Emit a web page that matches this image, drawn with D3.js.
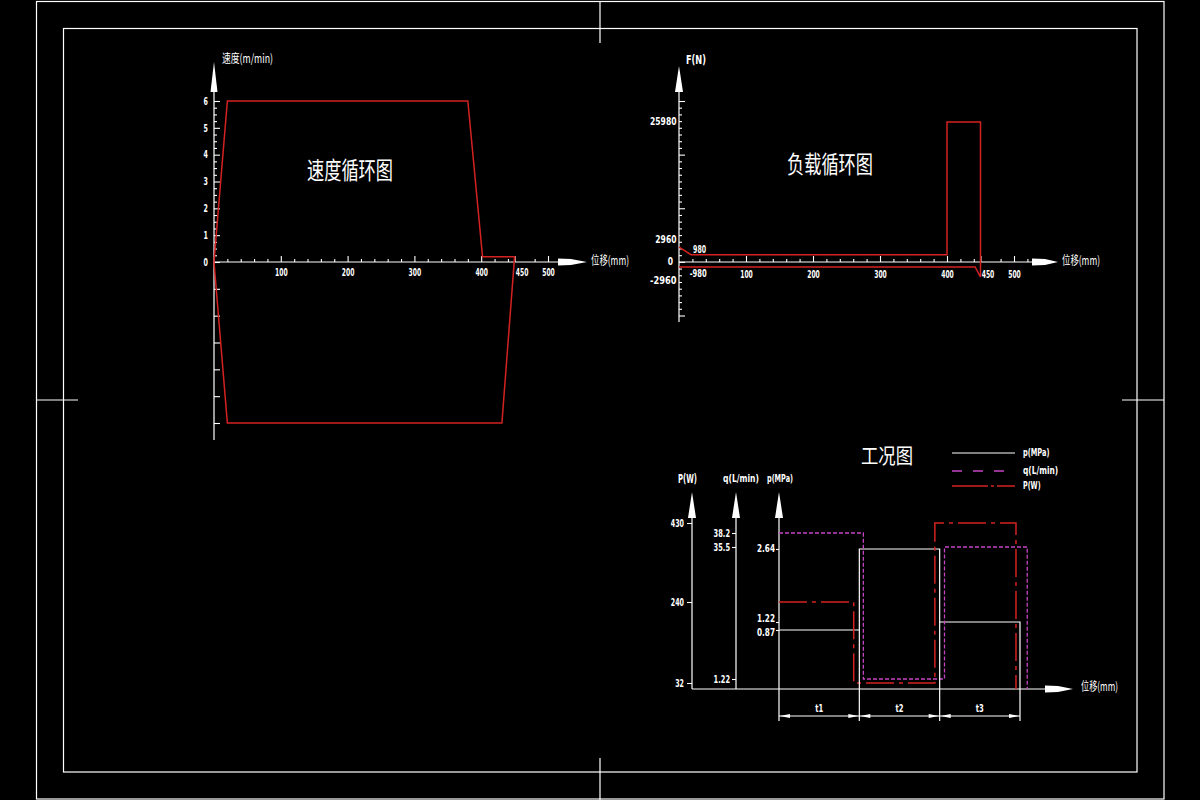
<!DOCTYPE html>
<html><head><meta charset="utf-8">
<script src="https://cdn.jsdelivr.net/npm/d3@7"></script>
<style>html,body{margin:0;background:#000;} svg{display:block;background:#000;}</style>
</head><body>
<svg id="c" width="1200" height="800"></svg>
<script>
// ---------- data ----------
// 速度循环图
const speedPos = [0, 20, 380, 402, 450, 431, 20, 0];
const speedVal = [0, 6, 6, 0.2, 0.2, -6, -6, 0];
const speedTicks = [0, 1, 2, 3, 4, 5, 6];
const speedNegTicks = [-1, -2, -3, -4, -5, -6];
const posTicks = [100, 200, 300, 400, 450, 500];
// 负载循环图
const loadPos = [0, 18, 400, 400, 450, 450, 442, 0];
const loadVal = [2000, 980, 980, 25980, 25980, -2960, -980, -980];
const loadTicks = [25980, 2960, 0, -2960];
const loadLineLabels = [980, -980];
// 工况图
const phases = ["t1", "t2", "t3"];
const pBounds = [0, 1, 2, 3];
const pVals = [0.87, 2.64, 1.22];
const qBounds = [0, 1.05, 2.06, 3.09];
const qVals = [38.2, 1.22, 35.5];
const PBounds = [0, 0.93, 1.94, 2.95];
const PVals = [240, 32, 430];
const pTicks = [2.64, 1.22, 0.87];
const qTicks = [38.2, 35.5, 1.22];
const PTicks = [430, 240, 32];
const legendLabels = ["p(MPa)", "q(L/min)", "P(W)"];

// ---------- style ----------
const RED = "#d42222", MAG = "#c444c4", WHITE = "#ffffff";
const NUMF = "'DejaVu Sans Condensed','DejaVu Sans',sans-serif";
const CJK = "'Noto Sans CJK SC','Noto Sans CJK JP',sans-serif";
const svg = d3.select("#c");

function txt(x, y, s, size, opts = {}) {
  const t = svg.append("text").attr("x", x).attr("y", y).text(s)
    .attr("fill", WHITE).attr("font-size", size)
    .attr("font-family", opts.font || NUMF)
    .attr("font-weight", opts.weight || "bold")
    .attr("text-anchor", opts.anchor || "start")
    .attr("dominant-baseline", opts.base || "middle");
  if (opts.len) t.attr("textLength", opts.len).attr("lengthAdjust", "spacingAndGlyphs");
  return t;
}
function line(x1, y1, x2, y2, col = WHITE, w = 1.2, dash = null) {
  const l = svg.append("line").attr("x1", x1).attr("y1", y1).attr("x2", x2).attr("y2", y2)
    .attr("stroke", col).attr("stroke-width", w);
  if (dash) l.attr("stroke-dasharray", dash);
  return l;
}
function upArrow(x, yTip, yBase, w) {
  svg.append("polygon").attr("fill", WHITE)
    .attr("points", `${x},${yTip} ${x - w / 2},${yBase} ${x + w / 2},${yBase}`);
}
function rightArrow(xBase, xTip, y) {
  svg.append("polygon").attr("fill", WHITE)
    .attr("points", `${xBase},${y - 3.5} ${xBase + 13},${y - 3} ${xTip},${y} ${xBase + 13},${y + 3} ${xBase},${y + 3.5}`);
}
function styleAxis(g, size, cw) {
  g.select(".domain").remove();
  g.attr("font-family", NUMF).attr("font-size", size).attr("font-weight", "bold");
  g.selectAll(".tick line").attr("stroke", WHITE).attr("stroke-width", 1.1);
  g.selectAll(".tick text").attr("fill", WHITE);
  if (cw) g.selectAll(".tick text").each(function (d) {
    const s = d3.select(this).text();
    if (s) d3.select(this).attr("textLength", s.length * cw).attr("lengthAdjust", "spacingAndGlyphs");
    if (d === 450) d3.select(this).attr("dx", 7);
  });
}

// ---------- frame ----------
svg.append("rect").attr("x", 36.5).attr("y", 1.5).attr("width", 1127.5).attr("height", 797.5)
  .attr("fill", "none").attr("stroke", WHITE).attr("stroke-width", 1.2);
svg.append("rect").attr("x", 63.5).attr("y", 28.5).attr("width", 1073.5).attr("height", 743.5)
  .attr("fill", "none").attr("stroke", WHITE).attr("stroke-width", 1.2);
line(600, 1, 600, 43); line(600, 758, 600, 800);
line(36, 400, 78, 400); line(1122, 400, 1164, 400);

// ---------- 速度循环图 ----------
const xS = d3.scaleLinear().domain([0, 500]).range([214, 548]);
const yS = d3.scaleLinear().domain([-6, 6]).range([423, 101]);
const y0S = yS(0);
line(xS(0), 440, xS(0), 92);
upArrow(xS(0), 62, 92, 7);
line(xS(0), y0S, 560, y0S);
rightArrow(558, 587, y0S);

let g = svg.append("g").attr("transform", `translate(0,${y0S})`)
  .call(d3.axisBottom(xS).tickValues(posTicks).tickSize(-6).tickPadding(7));
styleAxis(g, 10, 4.2);
g = svg.append("g").attr("transform", `translate(0,${y0S})`)
  .call(d3.axisBottom(xS).tickValues(d3.range(20, 521, 20).filter(v => v % 100 !== 0 && v !== 460)).tickSize(-3).tickFormat(""));
styleAxis(g, 10);

g = svg.append("g").attr("transform", `translate(${xS(0)},0)`)
  .call(d3.axisLeft(yS).tickValues(speedTicks).tickSize(-6).tickPadding(6));
styleAxis(g, 10, 4.4);
g = svg.append("g").attr("transform", `translate(${xS(0)},0)`)
  .call(d3.axisLeft(yS).tickValues(d3.range(0.25, 6, 0.25).filter(v => v % 1 !== 0)).tickSize(-3).tickFormat(""));
styleAxis(g, 10);
g = svg.append("g").attr("transform", `translate(${xS(0)},0)`)
  .call(d3.axisLeft(yS).tickValues(speedNegTicks).tickSize(-6).tickFormat(""));
styleAxis(g, 10);

svg.append("path")
  .attr("d", d3.line().x((d, i) => xS(speedPos[i])).y(d => yS(d))(speedVal))
  .attr("fill", "none").attr("stroke", RED).attr("stroke-width", 1.5);

txt(222, 60, "速度(m/min)", 12, { font: CJK, weight: "normal", len: 51 });
txt(591, 262, "位移(mm)", 12, { font: CJK, weight: "normal", len: 38 });
txt(350, 172, "速度循环图", 24, { font: CJK, weight: "normal", anchor: "middle", len: 86 });

// ---------- 负载循环图 ----------
const xL = d3.scaleLinear().domain([0, 500]).range([679, 1014]);
const yL = d3.scaleLinear().domain([-2960, 0, 2960, 25980]).range([277, 262, 240, 122]);
const y0L = yL(0);
const gridL = d3.scaleLinear().domain([-1, 3]).range([315.5, 101]);
line(xL(0), 322, xL(0), 92);
upArrow(xL(0), 66, 92, 8);
line(xL(0), y0L, 1034, y0L);
rightArrow(1032, 1058, y0L);

g = svg.append("g").attr("transform", `translate(0,${y0L})`)
  .call(d3.axisBottom(xL).tickValues(posTicks).tickSize(-6).tickPadding(9));
styleAxis(g, 10, 4.2);
g = svg.append("g").attr("transform", `translate(0,${y0L})`)
  .call(d3.axisBottom(xL).tickValues(d3.range(20, 521, 20).filter(v => v % 100 !== 0 && v !== 460)).tickSize(-3).tickFormat(""));
styleAxis(g, 10);
g = svg.append("g").attr("transform", `translate(${xL(0)},0)`)
  .call(d3.axisLeft(gridL).tickValues(d3.range(-1, 3.001, 1)).tickSize(-6).tickFormat(""));
styleAxis(g, 10);
g = svg.append("g").attr("transform", `translate(${xL(0)},0)`)
  .call(d3.axisLeft(gridL).tickValues(d3.range(-1, 3.001, 0.125).filter(v => Math.abs(v % 1) > 1e-6)).tickSize(-3).tickFormat(""));
styleAxis(g, 10);

loadTicks.forEach(v => {
  const s = String(v);
  const x = v === 0 ? 673 : 676.5;
  txt(x, yL(v) + (v < 0 ? 4 : 0), s, 10, { anchor: "end", len: s.length * 5.3 });
});
svg.append("path")
  .attr("d", d3.line().x((d, i) => xL(loadPos[i])).y(d => yL(d))(loadVal))
  .attr("fill", "none").attr("stroke", RED).attr("stroke-width", 1.5);
txt(xL(21), yL(loadLineLabels[0]) - 5, String(loadLineLabels[0]), 10, { len: 13 });
txt(xL(16), yL(loadLineLabels[1]) + 7, String(loadLineLabels[1]), 10, { len: 17 });

txt(686, 60, "F(N)", 12, { len: 20 });
txt(1062, 262, "位移(mm)", 12, { font: CJK, weight: "normal", len: 38 });
txt(830, 166, "负载循环图", 24, { font: CJK, weight: "normal", anchor: "middle", len: 86 });

// ---------- 工况图 ----------
const xB = d3.scaleLinear().domain([0, 3]).range([779, 1020]);
const yp = d3.scaleLinear().domain([0.87, 1.22, 2.64]).range([630, 622, 549]);
const yq = d3.scaleLinear().domain([1.22, 35.5, 38.2]).range([679, 547, 533]);
const yP = d3.scaleLinear().domain([32, 240, 430]).range([683, 602, 523]);
const base = 689, dimY = 716, extBottom = 721;
const axP = 692, axQ = 736, axp = xB(0);

// axes
[axP, axQ].forEach(x => { line(x, base, x, 516); upArrow(x, 492, 518, 8); });
line(axp, extBottom, axp, 516); upArrow(axp, 492, 518, 8);
line(axP, base, 1047, base);
rightArrow(1045, 1073, base);

g = svg.append("g").attr("transform", `translate(${axP},0)`)
  .call(d3.axisLeft(yP).tickValues(PTicks).tickSize(5).tickPadding(3).tickFormat(d => String(d)));
styleAxis(g, 11, 4.4);
g = svg.append("g").attr("transform", `translate(${axQ},0)`)
  .call(d3.axisLeft(yq).tickValues(qTicks).tickSize(4).tickPadding(2).tickFormat(d => String(d)));
styleAxis(g, 11, 4.1);
g = svg.append("g").attr("transform", `translate(${axp},0)`)
  .call(d3.axisLeft(yp).tickValues(pTicks).tickSize(3).tickFormat(""));
styleAxis(g, 11);
// p labels, spread apart when close
const pLab = pTicks.map(v => ({ v, y: yp(v) })).sort((a, b) => a.y - b.y);
for (let i = 1; i < pLab.length; i++) {
  if (pLab[i].y - pLab[i - 1].y < 14) {
    const m = (pLab[i].y + pLab[i - 1].y) / 2;
    pLab[i - 1].y = m - 7; pLab[i].y = m + 7;
  }
}
pLab.forEach(d => txt(axp - 4, d.y, d.v.toFixed(2), 11, { anchor: "end", len: 18 }));

txt(678, 479, "P(W)", 12, { len: 19 });
txt(723, 479, "q(L/min)", 11, { len: 36 });
txt(767, 479, "p(MPa)", 11, { len: 26 });

// series
function stepLine(bounds, vals, y) {
  const pts = bounds.map((b, i) => [xB(b), i < vals.length ? y(vals[i]) : base]);
  return d3.line().curve(d3.curveStepAfter)(pts);
}
svg.append("path").attr("d", stepLine(pBounds, pVals, yp))
  .attr("fill", "none").attr("stroke", WHITE).attr("stroke-width", 1.2);
svg.append("path").attr("d", stepLine(qBounds, qVals, yq))
  .attr("fill", "none").attr("stroke", MAG).attr("stroke-width", 1.3).attr("stroke-dasharray", "4,2");
svg.append("path").attr("d", stepLine(PBounds, PVals, yP))
  .attr("fill", "none").attr("stroke", RED).attr("stroke-width", 1.5).attr("stroke-dasharray", "28,5,4,5");

// extension & dimension lines
pBounds.slice(1).forEach((b, i) => {
  const yTop = i + 1 < pVals.length ? Math.max(yp(pVals[i]), yp(pVals[i + 1])) : base;
  line(xB(b), yTop, xB(b), extBottom);
});
line(xB(0), dimY, xB(3), dimY);
phases.forEach((t, i) => {
  const a = xB(pBounds[i]), b = xB(pBounds[i + 1]);
  svg.append("polygon").attr("fill", WHITE)
    .attr("points", `${a + 1},${dimY} ${a + 11},${dimY - 2} ${a + 11},${dimY + 2}`);
  svg.append("polygon").attr("fill", WHITE)
    .attr("points", `${b - 1},${dimY} ${b - 11},${dimY - 2} ${b - 11},${dimY + 2}`);
  txt((a + b) / 2, dimY - 7, t, 11, { anchor: "middle", len: 8 });
});

// legend & title
txt(887, 457, "工况图", 21, { font: CJK, weight: "normal", anchor: "middle", len: 52 });
const legY = [453, 471, 486];
const legStyle = [[WHITE, null, 1.2], [MAG, "10,11", 1.3], [RED, "36,3,3,3", 1.5]];
legendLabels.forEach((s, i) => {
  line(952, legY[i], 1015, legY[i], legStyle[i][0], legStyle[i][2], legStyle[i][1]);
  txt(1023, legY[i], s, 11, { len: s.length * 4.4 });
});
txt(1081, 688, "位移(mm)", 12, { font: CJK, weight: "normal", len: 37 });
</script>
</body></html>
